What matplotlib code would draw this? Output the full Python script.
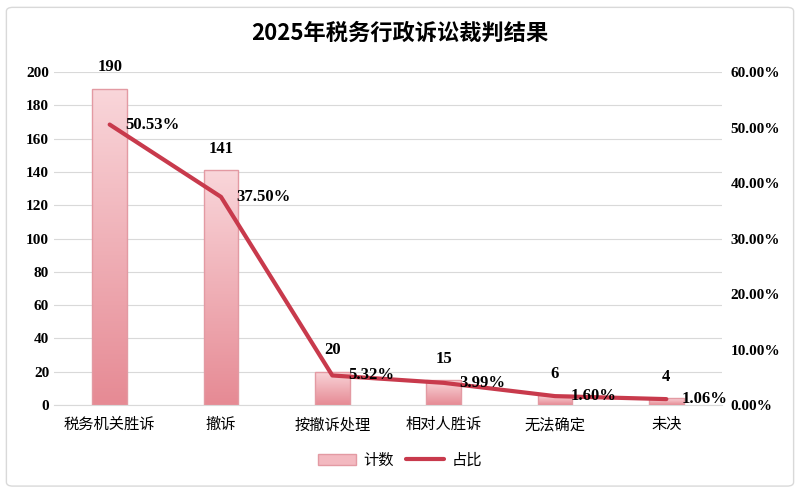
import numpy as np
import matplotlib
matplotlib.use("Agg")
import matplotlib.pyplot as plt
from matplotlib.patches import FancyBboxPatch, Rectangle
from matplotlib.colors import LinearSegmentedColormap
from matplotlib.ticker import FuncFormatter

plt.rcParams['font.family'] = ['Liberation Serif', 'Noto Sans CJK SC', 'DejaVu Sans']

# data
categories = ['税务机关胜诉', '撤诉', '按撤诉处理', '相对人胜诉', '无法确定', '未决']
counts = [190, 141, 20, 15, 6, 4]
shares = [50.53, 37.50, 5.32, 3.99, 1.60, 1.06]

title = '2025年税务行政诉讼裁判结果'
cjk = ['Noto Sans CJK SC', 'DejaVu Sans']
num_font = ['Liberation Serif', 'DejaVu Serif']

fig = plt.figure(figsize=(8, 4.91), dpi=100)
fig.patch.set_facecolor('white')
# outer frame
fig.patches.append(FancyBboxPatch((0.008, 0.01), 0.984, 0.975, boxstyle='round,pad=0,rounding_size=0.008',
                                  transform=fig.transFigure, fill=False, edgecolor='#d9d9d9', lw=1))

ax = fig.add_axes([54 / 800, 1 - 405 / 491, 668 / 800, 333 / 491])
ax2 = ax.twinx()

x = np.arange(len(categories))
w = 0.31
cmap = LinearSegmentedColormap.from_list('pinkgrad', ['#e68a94', '#f9d6da'])
grad = np.linspace(0, 1, 256).reshape(-1, 1)
bars = ax.bar(x, counts, width=w, color='none', edgecolor='#e39aa3', lw=1, zorder=3, label='计数')
for b in bars:
    im = ax.imshow(grad, cmap=cmap, aspect='auto', origin='lower',
                   extent=[b.get_x(), b.get_x() + b.get_width(), 0, b.get_height()], zorder=2)
    im.set_clip_path(b)

for xi, c in zip(x, counts):
    ax.text(xi, c + 8, str(c), ha='center', va='bottom', fontsize=12, fontweight='bold', family=num_font)

ax.set_xlim(-0.5, len(categories) - 0.5)
ax.set_ylim(0, 200)
ax.set_yticks(range(0, 201, 20))
ax.grid(axis='y', color='#d9d9d9', lw=0.8, zorder=0)
ax.set_axisbelow(True)
ax.set_xticks(x)
ax.set_xticklabels(categories, family=cjk, fontsize=11)
for lbl in ax.get_yticklabels():
    lbl.set_fontweight('bold')
    lbl.set_fontsize(11)
ax.tick_params(axis='both', length=0)
ax.tick_params(axis='x', pad=8)
for s in ax.spines.values():
    s.set_visible(False)
ax.spines['bottom'].set_visible(True)
ax.spines['bottom'].set_color('#d9d9d9')

ax2.plot(x, np.array(shares) / 100, color='#c83a4c', lw=3, zorder=4, label='占比', solid_capstyle='round')
ax2.set_ylim(0, 0.6)
ax2.set_yticks(np.arange(0, 0.61, 0.1))
ax2.yaxis.set_major_formatter(FuncFormatter(lambda v, p: f'{v * 100:.2f}%'))
for lbl in ax2.get_yticklabels():
    lbl.set_fontweight('bold')
    lbl.set_fontsize(11)
ax2.tick_params(axis='y', length=0, pad=6)
for s in ax2.spines.values():
    s.set_visible(False)
for xi, s in zip(x, shares):
    ax2.text(xi + 0.14, s / 100, f'{s:.2f}%', ha='left', va='center', fontsize=12, fontweight='bold',
             family=num_font, zorder=5)

fig.text(0.5, 1 - 33 / 491, title, ha='center', va='center', fontsize=16, fontweight='bold', family=cjk)

h1, l1 = ax.get_legend_handles_labels()
h2, l2 = ax2.get_legend_handles_labels()
leg_patch = Rectangle((0, 0), 1, 1, facecolor='#f3b9c0', edgecolor='#e39aa3')
fig.legend([leg_patch, h2[0]], ['计数', '占比'], loc='center', bbox_to_anchor=(0.5, 1 - 460 / 491),
           ncol=2, frameon=False, prop={'family': cjk, 'size': 11}, handlelength=2.5, columnspacing=0.8,
           handletextpad=0.5)

fig.savefig('out.png', dpi=100)
